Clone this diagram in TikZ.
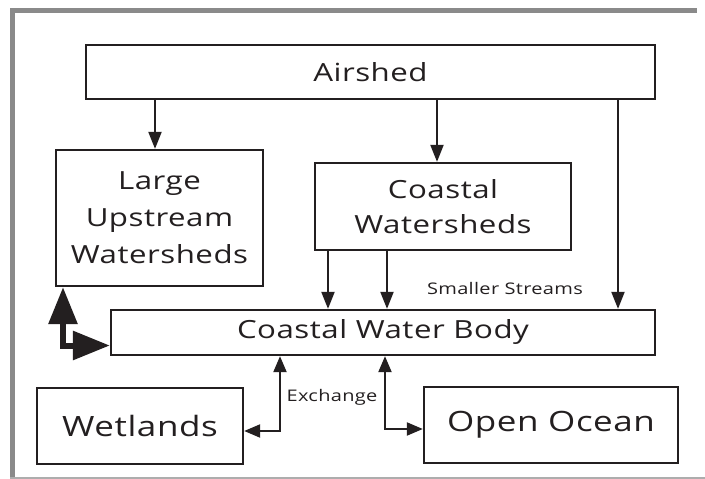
\documentclass[tikz,border=0pt]{standalone}
\usepackage{fontspec}
\setmainfont{Open Sans}[FakeStretch=1.25,LetterSpace=2]
\usetikzlibrary{arrows.meta}
\definecolor{ink}{HTML}{231F20}
\definecolor{frame}{HTML}{8A8A8A}
\begin{document}
\begin{tikzpicture}[x=1pt,y=-1pt,
  box/.style={draw=ink,line width=2.3pt,text=ink,align=center,inner sep=0pt},
  flow/.style={draw=ink,line width=2pt,-{Triangle[length=17pt,width=13pt]}},
  twoway/.style={draw=ink,line width=2pt,{Triangle[length=16pt,width=13pt]}-{Triangle[length=16pt,width=13pt]}},
  bigway/.style={draw=ink,line width=6pt,{Triangle[length=37pt,width=28pt]}-{Triangle[length=37pt,width=28pt]}},
  note/.style={text=ink,font=\fontsize{16}{19}\selectfont}]
\useasboundingbox[fill=white] (0,0) rectangle (705,479);
\draw[frame,line width=4.5pt] (10,10.5) -- (697,10.5);
\draw[frame,line width=4.5pt] (12.5,8.25) -- (12.5,479);
\draw[frame!70,line width=2pt] (10,477.5) -- (705,477.5);
\draw (370.5,72) node[box,minimum width=569pt,minimum height=54pt,font=\fontsize{25}{30}\selectfont](air) {Airshed};
\draw (159.5,218) node[box,minimum width=207pt,minimum height=136pt,font=\fontsize{25}{37}\selectfont](large) {Large\\Upstream\\Watersheds};
\draw (443,206.5) node[box,minimum width=256pt,minimum height=87pt,font=\fontsize{25}{35}\selectfont](coast) {Coastal\\Watersheds};
\draw (383,332.5) node[box,minimum width=544pt,minimum height=45pt,font=\fontsize{25}{30}\selectfont](body) {Coastal Water Body};
\draw (140,426) node[box,minimum width=206pt,minimum height=76pt,font=\fontsize{28}{34}\selectfont](wet) {Wetlands};
\draw (551,425) node[box,minimum width=254pt,minimum height=76pt,font=\fontsize{28}{34}\selectfont](ocean) {Open Ocean};
\draw (505,288) node[note](streams) {Smaller Streams};
\draw (332,397) node[note](exch) {Exchange};
\coordinate (tie) at (63,345.5);
\coordinate (xleft) at (280,431);
\coordinate (xright) at (385,429);
\draw[flow] (air.south -| 155,0) -- (large.north -| 155,0);
\draw[flow] (air.south -| 437,0) -- (coast.north -| 437,0);
\draw[flow] (air.south -| 618,0) -- (body.north -| 618,0);
\draw[flow] (coast.south -| 328,0) -- (body.north -| 328,0);
\draw[flow] (coast.south -| 387,0) -- (body.north -| 387,0);
\draw[bigway] (large.south -| tie) |- (body.west |- tie);
\draw[twoway] (body.south -| xleft) |- (wet.east |- xleft);
\draw[twoway] (body.south -| xright) |- (ocean.west |- xright);
\end{tikzpicture}
\end{document}
